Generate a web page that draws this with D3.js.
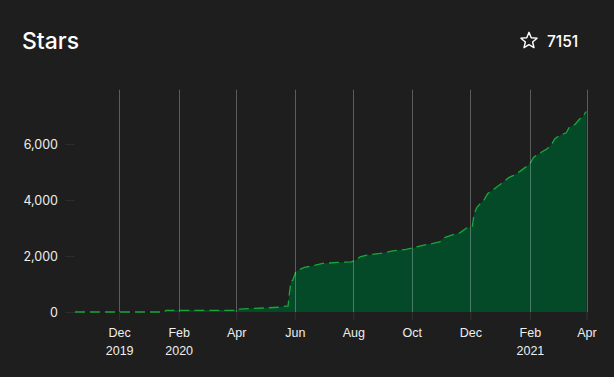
<!DOCTYPE html>
<html>
<head>
<meta charset="utf-8">
<script src="https://cdn.jsdelivr.net/npm/d3@7"></script>
<style>
  body { margin: 0; background: #1e1e1e; }
  svg { display: block; font-family: Inter, "Noto Sans", sans-serif; }
</style>
</head>
<body>
<div id="chart"></div>
<script>
// cumulative stars
var dates = ["2019-10-16","2020-01-17","2020-01-19","2020-04-02","2020-04-03","2020-05-04","2020-05-16","2020-05-22","2020-05-25",
  "2020-05-26","2020-05-28","2020-05-30","2020-06-01","2020-06-02","2020-06-06","2020-06-11","2020-06-20","2020-06-30",
  "2020-07-16","2020-07-30","2020-08-05","2020-08-08","2020-08-15","2020-08-29","2020-09-05","2020-09-11","2020-09-25",
  "2020-10-01","2020-10-09","2020-10-16","2020-10-23","2020-10-30","2020-11-04","2020-11-13","2020-11-20","2020-11-27",
  "2020-12-03","2020-12-05","2020-12-08","2020-12-12","2020-12-15","2020-12-19","2020-12-26","2021-01-02","2021-01-10",
  "2021-01-15","2021-01-22","2021-01-29","2021-02-02","2021-02-05","2021-02-12","2021-02-19","2021-02-24","2021-02-27",
  "2021-03-04","2021-03-11","2021-03-14","2021-03-20","2021-03-25","2021-03-28","2021-03-31","2021-04-01"];
var stars = [0,0,60,60,100,150,170,210,210,
  545,1080,1140,1320,1435,1520,1590,1650,1735,
  1770,1790,1877,1970,2030,2090,2137,2184,2233,
  2280,2350,2410,2447,2505,2660,2767,2825,3000,
  3063,3515,3750,3893,3990,4228,4405,4584,4798,
  4880,5032,5210,5354,5532,5688,5831,6009,6187,
  6305,6401,6602,6697,6900,6957,7135,7151];
var yTicks = [0, 2000, 4000, 6000];
var title = "Stars";
var total = 7151;

var w = 614, h = 377;
var margin = {left: 75, top: 88, right: 27.5, bottom: 65};

var parse = d3.timeParse("%Y-%m-%d");
var data = dates.map(function(d, i){ return {date: parse(d), value: stars[i]}; });

var svg = d3.select("#chart").append("svg").attr("width", w).attr("height", h);
svg.append("rect").attr("width", w).attr("height", h).attr("fill", "#1e1e1e");

var xScale = d3.scaleTime()
    .domain(d3.extent(data, function(d){ return d.date; }))
    .range([margin.left, w - margin.right]);
var yScale = d3.scaleLinear().domain([0, 8000]).range([h - margin.bottom, margin.top]);

// title + total
svg.append("text").attr("x", 22).attr("y", 48.5).text(title)
    .attr("fill", "#ffffff").attr("font-size", 23).attr("font-weight", 500);
svg.append("text").attr("x", 547).attr("y", 46.5).text(total)
    .attr("fill", "#ffffff").attr("font-size", 15.5).attr("font-weight", 500);

var starPts = d3.range(10).map(function(i){
    var r = i % 2 === 0 ? 8.5 : 3.8;
    var a = -Math.PI / 2 + i * Math.PI / 5;
    return [529 + r * Math.cos(a), 40.8 + r * Math.sin(a)];
});
svg.append("path").attr("d", d3.line().curve(d3.curveLinearClosed)(starPts))
    .attr("fill", "none").attr("stroke", "#ffffff").attr("stroke-width", 1.4)
    .attr("stroke-linejoin", "round");

// area + line
var area = d3.area()
    .x(function(d){ return xScale(d.date); })
    .y0(yScale(0))
    .y1(function(d){ return yScale(d.value); });
var line = d3.line()
    .x(function(d){ return xScale(d.date); })
    .y(function(d){ return yScale(d.value); });

svg.append("path").datum(data).attr("d", area).attr("fill", "#044a29");
svg.append("path").datum(data).attr("d", line)
    .attr("fill", "none").attr("stroke", "#17a83c").attr("stroke-width", 1.3)
    .attr("stroke-dasharray", "10 5");

// x axis
var xTicks = d3.timeMonths(new Date(2019, 11, 1), new Date(2021, 3, 2), 2);
var xAxis = d3.axisBottom(xScale).tickValues(xTicks).tickSize(8).tickPadding(10).tickFormat("");
var gx = svg.append("g").attr("transform", "translate(0," + yScale(0) + ")").call(xAxis);
gx.select(".domain").remove();
gx.selectAll(".tick line").attr("stroke", "#333");

var monthFmt = d3.timeFormat("%b"), yearFmt = d3.timeFormat("%Y");
gx.selectAll(".tick").each(function(d, i){
    var t = d3.select(this).append("text").attr("fill", "#eeeeee").attr("font-size", 12.5)
        .attr("text-anchor", "middle");
    t.append("tspan").attr("x", 0).attr("y", 25).text(monthFmt(d));
    if (i === 0 || yearFmt(d) !== yearFmt(xTicks[i - 1])) {
        t.append("tspan").attr("x", 0).attr("y", 43).text(yearFmt(d));
    }
});

// grid over the area
svg.append("g").selectAll("line").data(xTicks).enter().append("line")
    .attr("x1", function(d){ return Math.round(xScale(d)) + 0.5; })
    .attr("x2", function(d){ return Math.round(xScale(d)) + 0.5; })
    .attr("y1", yScale(7940)).attr("y2", yScale(0))
    .attr("stroke", "#ffffff").attr("stroke-opacity", 0.28).attr("stroke-width", 1);

// y axis
var yAxis = d3.axisLeft(yScale).tickValues(yTicks).tickSize(10).tickPadding(7).tickFormat(d3.format(","));
var gy = svg.append("g").attr("transform", "translate(" + margin.left + ",0)").call(yAxis);
gy.select(".domain").remove();
gy.selectAll(".tick line").attr("stroke", "#2c2c2c");
gy.selectAll(".tick text").attr("fill", "#eeeeee").attr("font-size", 12.5)
    .attr("font-family", "Inter, sans-serif");
</script>
</body>
</html>
